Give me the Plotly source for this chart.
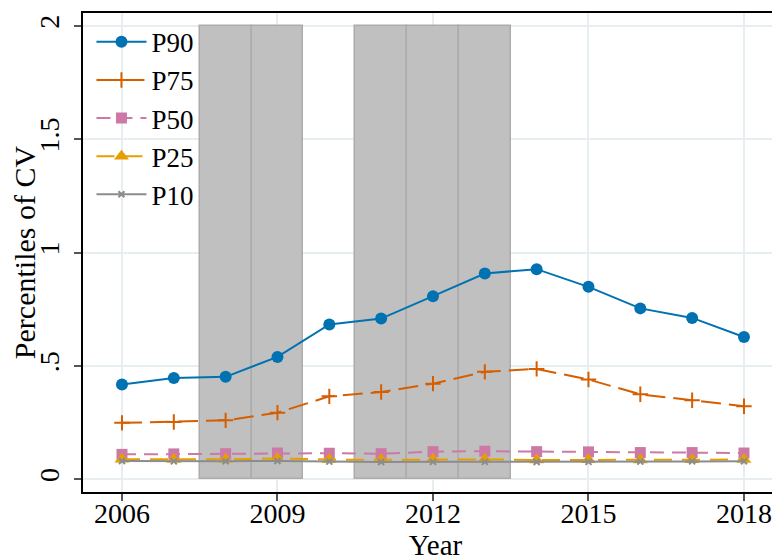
import plotly.graph_objects as go

years = [2006, 2007, 2008, 2009, 2010, 2011, 2012, 2013, 2014, 2015, 2016, 2017, 2018]
p90 = [0.418, 0.447, 0.452, 0.540, 0.683, 0.709, 0.808, 0.908, 0.927, 0.849, 0.754, 0.712, 0.628]
p75 = [0.249, 0.253, 0.260, 0.294, 0.366, 0.385, 0.422, 0.474, 0.487, 0.440, 0.375, 0.349, 0.322]
p50 = [0.110, 0.112, 0.113, 0.116, 0.115, 0.113, 0.122, 0.124, 0.122, 0.121, 0.118, 0.118, 0.116]
p25 = [0.088, 0.087, 0.088, 0.092, 0.087, 0.086, 0.088, 0.088, 0.085, 0.086, 0.085, 0.086, 0.087]
p10 = [0.081, 0.079, 0.080, 0.081, 0.078, 0.076, 0.077, 0.077, 0.076, 0.077, 0.078, 0.079, 0.080]

shade_years = [2008, 2009, 2011, 2012, 2013]
shade_height = [2, 2, 2, 2, 2]

x_ticks = [2006, 2009, 2012, 2015, 2018]
y_ticks = [0, 0.5, 1, 1.5, 2]
y_ticklabels = ["0", ".5", "1", "1.5", "2"]

FONT = "Liberation Serif, Times New Roman, serif"

fig = go.Figure()

fig.add_trace(go.Bar(
    x=shade_years, y=shade_height, width=1,
    marker=dict(color="rgb(192,192,192)", line=dict(color="rgb(172,172,172)", width=1.5)),
    showlegend=False, hoverinfo="skip",
))

series = [
    ("P90", p90, "#0072B2", "solid", "circle", 12, 2),
    ("P75", p75, "#D55E00", "20px,8px", "cross-thin", 11, 2),
    ("P50", p50, "#CC79A7", "14px,8px", "square", 11, 2),
    ("P25", p25, "#E69F00", "18px,10px", "triangle-up", 13, 2),
    ("P10", p10, "#8C8C8C", "solid", "x-thin", 6, 2),
]

for name, vals, color, dash, sym, size, lw in series:
    mline = dict(width=2, color=color) if "thin" in sym else dict(width=0)
    fig.add_trace(go.Scatter(
        x=years, y=vals, name=name, mode="lines+markers",
        line=dict(color=color, width=lw, dash=dash),
        marker=dict(symbol=sym, size=size, color=color, line=mline),
    ))

fig.update_layout(
    width=780, height=556,
    margin=dict(l=75, r=0, t=5, b=72),
    paper_bgcolor="white", plot_bgcolor="white",
    font=dict(family=FONT, size=28, color="black"),
    showlegend=True,
    legend=dict(x=0.012, y=0.99, xanchor="left", yanchor="top",
                bgcolor="rgba(0,0,0,0)", borderwidth=0,
                font=dict(family=FONT, size=27), traceorder="normal",
                itemwidth=50),
    bargap=0,
)

fig.update_xaxes(
    range=[2005.248, 2018.695 + 8 / 51.83], tickvals=x_ticks, ticktext=[str(v) for v in x_ticks],
    showgrid=True, gridcolor="#e6eef1", gridwidth=2,
    showline=True, linecolor="black", linewidth=2, mirror=True,
    ticks="outside", ticklen=7, tickwidth=1.5, tickcolor="#555555",
    zeroline=False, automargin=False, ticklabelstandoff=-12,
    title=dict(text="Year", standoff=6, font=dict(size=29)),
)
fig.update_yaxes(
    range=[-0.056, 2.057], tickvals=y_ticks, ticktext=y_ticklabels, tickangle=-90,
    showgrid=True, gridcolor="#e6eef1", gridwidth=2,
    showline=True, linecolor="black", linewidth=2, mirror=False,
    ticks="outside", ticklen=7, tickwidth=1.5, tickcolor="#555555",
    zeroline=False, automargin=False, ticklabelstandoff=4,
    title=dict(text="Percentiles of CV", standoff=8, font=dict(size=30)),
)

fig.write_html("out.html")
